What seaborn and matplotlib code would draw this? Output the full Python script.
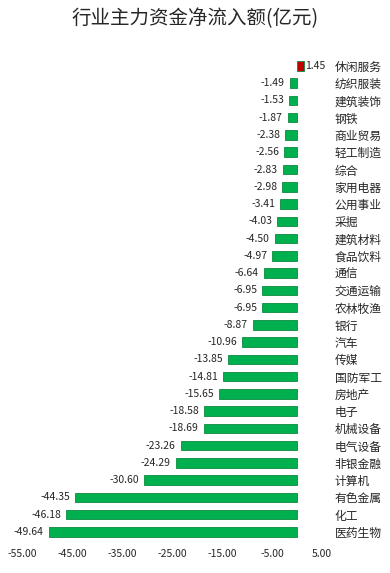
import pandas as pd
import matplotlib.pyplot as plt
import seaborn as sns

industries = ['休闲服务', '纺织服装', '建筑装饰', '钢铁', '商业贸易', '轻工制造', '综合',
              '家用电器', '公用事业', '采掘', '建筑材料', '食品饮料', '通信', '交通运输',
              '农林牧渔', '银行', '汽车', '传媒', '国防军工', '房地产', '电子', '机械设备',
              '电气设备', '非银金融', '计算机', '有色金属', '化工', '医药生物']
net_flow = [1.45, -1.49, -1.53, -1.87, -2.38, -2.56, -2.83, -2.98, -3.41, -4.03, -4.50,
            -4.97, -6.64, -6.95, -6.95, -8.87, -10.96, -13.85, -14.81, -15.65, -18.58,
            -18.69, -23.26, -24.29, -30.60, -44.35, -46.18, -49.64]
x_ticks = [-55, -45, -35, -25, -15, -5, 5]

df = pd.DataFrame({'industry': industries, 'flow': net_flow})
df['sign'] = ['in' if v > 0 else 'out' for v in df['flow']]

sns.set_style('white')
plt.rcParams['font.family'] = ['Noto Sans CJK SC', 'DejaVu Sans']

fig = plt.figure(figsize=(3.9, 5.73), dpi=100)
ax = fig.add_axes([0.056, 0.0565, 0.77, 0.8435])

sns.barplot(data=df, x='flow', y='industry', hue='sign', dodge=False,
            palette={'in': '#c00000', 'out': '#00b04f'}, saturation=1, width=0.55,
            edgecolor='#0c8a40', linewidth=0.6, legend=False, ax=ax)

# value labels: left of the bar for outflows, right for inflows
for i, v in enumerate(net_flow):
    if v < 0:
        ax.text(v - 1.0, i, f'{v:.2f}', ha='right', va='center', fontsize=7.5)
    else:
        ax.text(v + 0.2, i, f'{v:.2f}', ha='left', va='center', fontsize=7.5)

ax.set_xlim(-55, 5)
ax.set_xticks(x_ticks)
ax.set_xticklabels([f'{t:.2f}' for t in x_ticks], fontsize=7.5)
ax.yaxis.tick_right()
ax.tick_params(axis='y', length=0, pad=9, labelsize=8.5)
ax.tick_params(axis='x', length=0, pad=6)
ax.set_xlabel('')
ax.set_ylabel('')
sns.despine(ax=ax, left=True, bottom=True)

fig.suptitle('行业主力资金净流入额(亿元)', y=0.985, fontsize=14)

fig.savefig('out.png', dpi=100)
